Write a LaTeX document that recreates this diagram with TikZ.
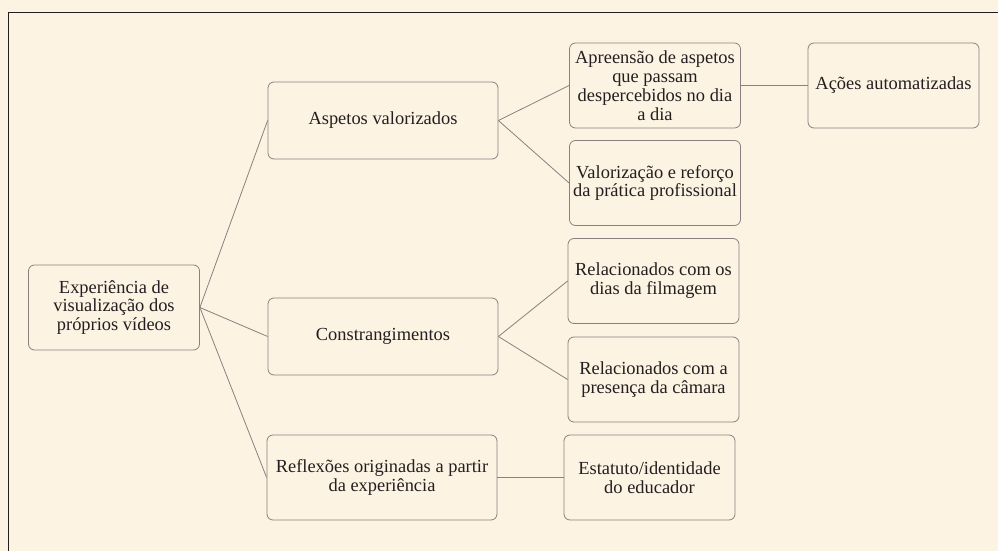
\documentclass[tikz,border=0pt]{standalone}
\usepackage{fontspec}
\setmainfont{Liberation Serif}
\usepackage{tikz}
\usetikzlibrary{calc}
\definecolor{papel}{HTML}{FDF3E3}
\definecolor{borda}{HTML}{8A8080}
\definecolor{tinta}{HTML}{231F20}
\tikzset{
  caixa/.style={draw=borda, line width=0.8bp, rounded corners=6bp, align=center,
    text=tinta, inner sep=2bp, font=\rmfamily\fontsize{18.5}{19}\selectfont,
    minimum width=171bp, minimum height=85bp},
  caixalarga/.style={caixa, minimum width=230bp, minimum height=77bp},
  ligacao/.style={draw=borda, line width=0.8bp}
}
\begin{document}
\begin{tikzpicture}[x=1bp,y=-1bp]
    %%background and frame
    \fill[papel] (0,0) rectangle (998,551);
    \useasboundingbox (0,0) rectangle (998,551);
    \draw[tinta, line width=1bp] (8,551) -- (8,12.5) -- (998,12.5);
    %%first level
    \node[caixa] (exp) at (114,307.5) {Experiência de\\visualização dos\\próprios vídeos};
    %%second level
    \node[caixalarga] (asp) at (383,120.5) {Aspetos valorizados};
    \node[caixalarga] (con) at (383,336.5) {Constrangimentos};
    \node[caixalarga, minimum height=85bp] (ref) at (382,477.5) {Reflexões originadas a partir\\da experiência};
    %%third level
    \node[caixa] (apr) at (655,85.5) {Apreensão de aspetos\\que passam\\despercebidos no dia\\a dia};
    \node[caixa] (val) at (655,183) {Valorização e reforço\\da prática profissional};
    \node[caixa] (rel1) at (653.5,281) {Relacionados com os\\dias da filmagem};
    \node[caixa] (rel2) at (653.5,379.5) {Relacionados com a\\presença da câmara};
    \node[caixa] (est) at (649.5,477.5) {Estatuto/identidade\\do educador};
    %%fourth level
    \node[caixa] (aco) at (893.5,85.5) {Ações automatizadas};
    %%connections
    \draw[ligacao] (exp.east) -- (asp.west);
    \draw[ligacao] (exp.east) -- (con.west);
    \draw[ligacao] (exp.east) -- (ref.west);
    \draw[ligacao] (asp.east) -- (apr.west);
    \draw[ligacao] (asp.east) -- (val.west);
    \draw[ligacao] (con.east) -- (rel1.west);
    \draw[ligacao] (con.east) -- (rel2.west);
    \draw[ligacao] (apr.east) -- (aco.west);
    \draw[ligacao] (ref.east) -- (est.west);
\end{tikzpicture}
\end{document}
